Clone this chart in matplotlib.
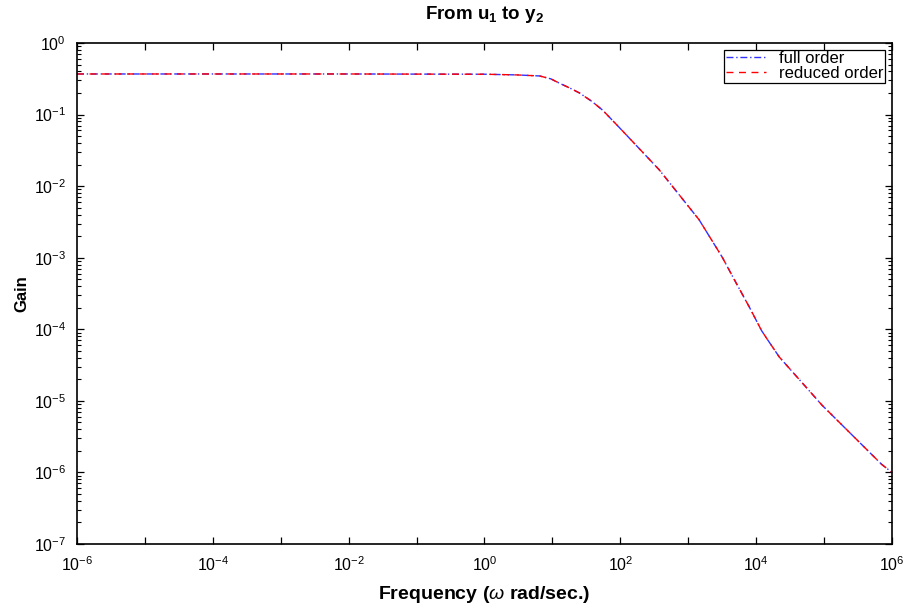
import matplotlib
matplotlib.use('Agg')
import matplotlib.pyplot as plt
from matplotlib.ticker import LogLocator, NullLocator

# Fonts: Helvetica-like look
plt.rcParams['font.family'] = ['Liberation Sans', 'DejaVu Sans']
plt.rcParams['mathtext.fontset'] = 'custom'
plt.rcParams['mathtext.rm'] = 'Liberation Sans'
plt.rcParams['mathtext.it'] = 'Liberation Sans:italic'
plt.rcParams['mathtext.bf'] = 'Liberation Sans:bold'

# Data (frequency in rad/s, gain)
freq = [1e-6, 1e-4, 1e-2, 1e0, 3.0, 6.5, 9.5, 12.6, 18.0, 25.1, 38.0,
        55.0, 98.0, 372.0, 1445.0, 3160.0, 4790.0, 7940.0, 12000.0,
        14100.0, 21900.0, 93300.0, 708000.0, 1e6]
gain_full = [0.369, 0.369, 0.369, 0.366, 0.358, 0.346, 0.315, 0.275,
             0.235, 0.20, 0.153, 0.115, 0.065, 0.0170, 0.00339, 0.00102,
             0.00049, 0.000204, 9.6e-5, 7.6e-5, 4.1e-5, 8.7e-6, 1.29e-6,
             1.0e-6]
gain_reduced = [0.369, 0.369, 0.369, 0.366, 0.358, 0.346, 0.315, 0.275,
                0.235, 0.20, 0.153, 0.115, 0.065, 0.0170, 0.00339, 0.00102,
                0.00049, 0.000204, 9.6e-5, 7.6e-5, 4.1e-5, 8.7e-6, 1.29e-6,
                1.0e-6]

fig = plt.figure(figsize=(9.04, 6.08), dpi=100)
ax = fig.add_axes([0.0852, 0.1053, 0.9015, 0.824])

ax.loglog(freq, gain_full, color='#3030ff', linestyle=(0, (5, 2, 1, 2)),
          linewidth=1.0, label='full order')
ax.loglog(freq, gain_reduced, color='red', linestyle=(0, (5, 4)),
          linewidth=1.0, label='reduced order')

ax.set_xlim(1e-6, 1e6)
ax.set_ylim(1e-7, 1e0)

# ticks: major every decade on x, labels every second decade
ax.set_xticks([10.0 ** k for k in range(-6, 7)])
ax.set_xticklabels(['$10^{%d}$' % k if k % 2 == 0 else '' for k in range(-6, 7)])
ax.xaxis.set_minor_locator(NullLocator())
ax.set_yticks([10.0 ** k for k in range(-7, 1)])
ax.set_yticklabels(['$10^{%d}$' % k for k in range(-7, 1)])
ax.yaxis.set_minor_locator(LogLocator(base=10, subs=range(2, 10), numticks=20))

ax.tick_params(which='both', direction='in', top=True, right=True,
               labelsize=11.5)
ax.tick_params(axis='x', pad=8)
ax.tick_params(axis='y', pad=8)
ax.tick_params(which='major', length=5, width=0.9)
ax.tick_params(which='minor', length=3, width=0.8)
for s in ax.spines.values():
    s.set_linewidth(1.2)

ax.set_title(r'From u$_\mathbf{1}$ to y$_\mathbf{2}$', fontsize=13.5,
             fontweight='bold', pad=17)
ax.set_xlabel(r'Frequency ($\omega$ rad/sec.)', fontsize=14,
              fontweight='bold', labelpad=7)
ax.set_ylabel('Gain', fontsize=12, fontweight='bold', labelpad=3)

leg = ax.legend(loc='upper right', fontsize=12, fancybox=False,
                framealpha=1, edgecolor='black', borderpad=0.1,
                handlelength=2.4, handletextpad=0.8, labelspacing=0.0,
                borderaxespad=0.4)
leg.get_frame().set_linewidth(0.9)

fig.savefig('out.png', dpi=100)
